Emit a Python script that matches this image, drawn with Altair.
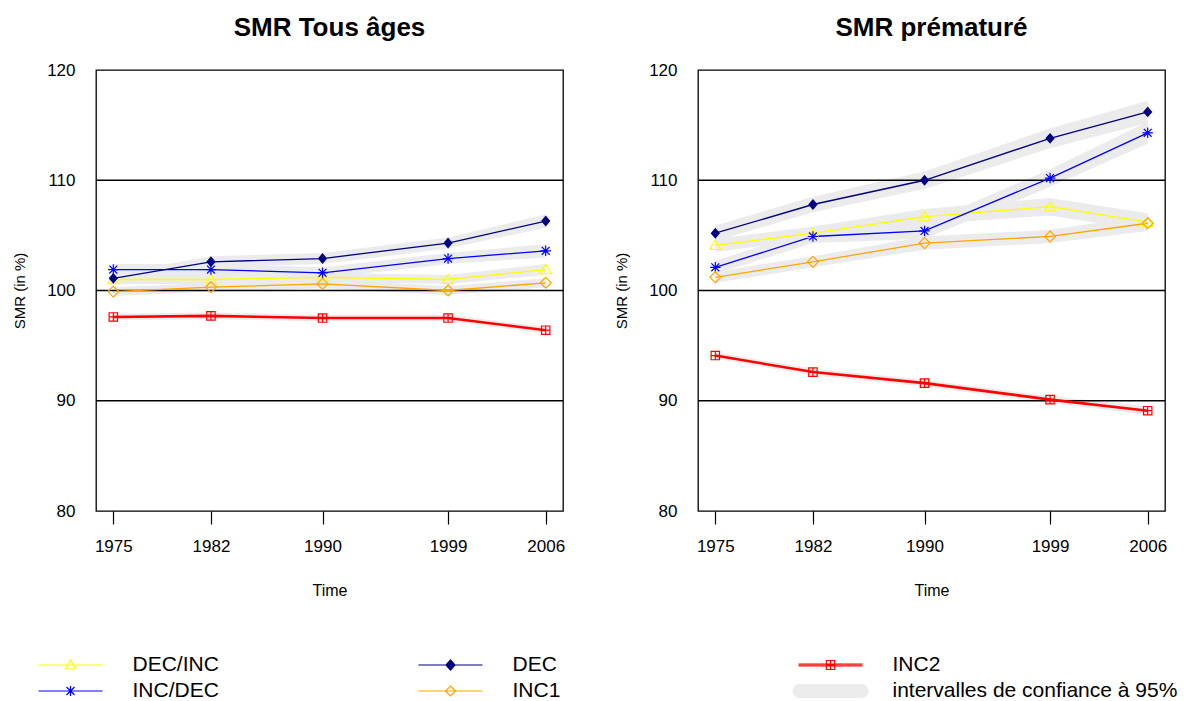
import altair as alt
import pandas as pd

FONT = "Liberation Sans"

years = [1975, 1982, 1990, 1999, 2006]
ref_levels = [90, 100, 110]
y_ticks = [80, 90, 100, 110, 120]
series_names = ["DEC/INC", "INC/DEC", "DEC", "INC1", "INC2"]
ci_label = "intervalles de confiance à 95%"

# SMR Tous âges
all_dec_inc = [101.0, 101.0, 101.2, 101.0, 101.9]
all_inc_dec = [101.9, 101.9, 101.6, 102.9, 103.6]
all_dec = [101.1, 102.6, 102.9, 104.3, 106.3]
all_inc1 = [99.9, 100.3, 100.6, 100.0, 100.7]
all_inc2 = [97.6, 97.7, 97.5, 97.5, 96.4]
# half-width of 95% CI, Tous âges
all_ci_dec_inc = [0.4, 0.4, 0.4, 0.4, 0.5]
all_ci_inc_dec = [0.5, 0.5, 0.5, 0.5, 0.6]
all_ci_dec = [0.4, 0.5, 0.5, 0.5, 0.6]
all_ci_inc1 = [0.4, 0.4, 0.4, 0.4, 0.4]
all_ci_inc2 = [0.3, 0.3, 0.3, 0.3, 0.3]

# SMR prématuré
pre_dec_inc = [104.1, 105.2, 106.7, 107.6, 106.2]
pre_inc_dec = [102.1, 104.9, 105.4, 110.2, 114.3]
pre_dec = [105.2, 107.8, 110.0, 113.8, 116.2]
pre_inc1 = [101.2, 102.6, 104.3, 104.9, 106.1]
pre_inc2 = [94.1, 92.6, 91.6, 90.1, 89.1]
# half-width of 95% CI, prématuré
pre_ci_dec_inc = [0.6, 0.6, 0.7, 0.8, 0.8]
pre_ci_inc_dec = [0.6, 0.6, 0.7, 0.8, 1.0]
pre_ci_dec = [0.7, 0.7, 0.8, 0.9, 1.0]
pre_ci_inc1 = [0.5, 0.5, 0.6, 0.6, 0.7]
pre_ci_inc2 = [0.3, 0.3, 0.3, 0.3, 0.4]

panels = {
    "all": ({"DEC/INC": all_dec_inc, "INC/DEC": all_inc_dec, "DEC": all_dec,
             "INC1": all_inc1, "INC2": all_inc2},
            {"DEC/INC": all_ci_dec_inc, "INC/DEC": all_ci_inc_dec, "DEC": all_ci_dec,
             "INC1": all_ci_inc1, "INC2": all_ci_inc2}),
    "pre": ({"DEC/INC": pre_dec_inc, "INC/DEC": pre_inc_dec, "DEC": pre_dec,
             "INC1": pre_inc1, "INC2": pre_inc2},
            {"DEC/INC": pre_ci_dec_inc, "INC/DEC": pre_ci_inc_dec, "DEC": pre_ci_dec,
             "INC1": pre_ci_inc1, "INC2": pre_ci_inc2}),
}

rows = []
for key, (vals, cis) in panels.items():
    for s in series_names:
        for yr, v, h in zip(years, vals[s], cis[s]):
            rows.append({"panel": key, "series": s, "year": yr, "smr": v,
                         "lo": round(v - h, 3), "hi": round(v + h, 3)})
df = pd.DataFrame(rows)

# styles
colors = {"DEC/INC": "#FFFF00", "INC/DEC": "#0000FF", "DEC": "#000080",
          "INC1": "#FFA500", "INC2": "#FF0000"}
widths = {"DEC/INC": 1.3, "INC/DEC": 1.3, "DEC": 1.3, "INC1": 1.3, "INC2": 2.6}
marker_paths = {
    "DEC/INC": "M0,-1L1.05,0.8L-1.05,0.8Z",
    "INC/DEC": "M-1,0L1,0M0,-1L0,1M-0.75,-0.75L0.75,0.75M-0.75,0.75L0.75,-0.75",
    "DEC": "M0,-1L0.85,0L0,1L-0.85,0Z",
    "INC1": "M0,-1L1,0L0,1L-1,0Z",
    "INC2": "M-0.8,-0.8L0.8,-0.8L0.8,0.8L-0.8,0.8ZM-0.8,0L0.8,0M0,-0.8L0,0.8",
}
marker_sizes = {"DEC/INC": 110, "INC/DEC": 110, "DEC": 120, "INC1": 120, "INC2": 110}
marker_filled = {"DEC/INC": False, "INC/DEC": False, "DEC": True, "INC1": False, "INC2": False}
band_color = "#EBEBEB"

# legend entries (filled column by column)
legend_order = ["DEC/INC", "INC/DEC", "DEC", "INC1", "INC2", ci_label]
LINE = "M-3.2,0L3.2,0"
legend_paths = [
    LINE + "M0,-0.5L0.52,0.4L-0.52,0.4Z",
    LINE + "M0,-0.5L0,0.5M-0.4,-0.4L0.4,0.4M-0.4,0.4L0.4,-0.4",
    LINE + "M0,-0.5L0.45,0L0,0.5L-0.45,0Z",
    LINE + "M0,-0.5L0.5,0L0,0.5L-0.5,0Z",
    "M-3.2,-0.08L3.2,-0.08M-3.2,0.08L3.2,0.08M-0.42,-0.45L0.42,-0.45L0.42,0.45L-0.42,0.45ZM-0.42,0L0.42,0M0,-0.45L0,0.45",
    "M-3.1,-0.65L3.1,-0.65A0.65,0.65 0 0 1 3.1,0.65L-3.1,0.65A0.65,0.65 0 0 1 -3.1,-0.65Z",
]
legend_strokes = ["#FFFF00", "#0000FF", "#000080", "#FFA500", "#FF0000", band_color]
legend_fills = ["transparent", "transparent", "#000080", "transparent", "transparent", band_color]

legend = alt.Legend(
    title=None, orient="none", legendX=-58, legendY=584, columns=3, gridAlign="all",
    columnPadding=-12, rowPadding=5, symbolSize=400, symbolStrokeWidth=1.2,
    symbolOffset=21.5, labelOffset=51, labelFont=FONT, labelFontSize=21,
    labelColor="black", labelLimit=400,
)

x_scale = alt.Scale(domain=[1973.76, 2007.24], nice=False, zero=False)
y_scale = alt.Scale(domain=[80, 120], nice=False, zero=False)
x_axis = alt.Axis(values=years, format="d", title="Time", domain=False, grid=False,
                  tickSize=13, tickColor="black", tickWidth=1.2, labelPadding=14,
                  labelFontSize=17, labelFont=FONT, labelColor="black",
                  titleFont=FONT, titleFontSize=16, titleFontWeight="normal",
                  titleColor="black", titlePadding=28)
y_axis = alt.Axis(values=y_ticks, title="SMR (in %)", domain=False, grid=False,
                  ticks=False, tickSize=0, labelPadding=21, labelFontSize=17,
                  labelFont=FONT, labelColor="black", titleFont=FONT,
                  titleFontSize=15, titleFontWeight="normal", titleColor="black",
                  titlePadding=19)


def make_panel(key, title, with_legend):
    base = alt.Chart(df).transform_filter(alt.datum.panel == key)
    band = base.mark_area(color=band_color, opacity=1).encode(
        x=alt.X("year:Q", scale=x_scale, axis=x_axis),
        y=alt.Y("lo:Q", scale=y_scale, axis=y_axis),
        y2="hi:Q",
        detail="series:N",
    )
    refs = alt.Chart(pd.DataFrame({"ref": ref_levels})).mark_rule(
        color="black", strokeWidth=1.3).encode(y=alt.Y("ref:Q", scale=y_scale))
    layers = [band, refs]
    for s in series_names:
        sub = base.transform_filter(alt.datum.series == s)
        layers.append(sub.mark_line(color=colors[s], strokeWidth=widths[s]).encode(
            x=alt.X("year:Q", scale=x_scale), y=alt.Y("smr:Q", scale=y_scale)))
    for s in series_names:
        sub = base.transform_filter(alt.datum.series == s)
        layers.append(sub.mark_point(
            shape=marker_paths[s], size=marker_sizes[s], filled=marker_filled[s],
            color=colors[s], strokeWidth=1.2, opacity=1).encode(
            x=alt.X("year:Q", scale=x_scale), y=alt.Y("smr:Q", scale=y_scale)))
    if with_legend:
        dummy = alt.Chart(df).transform_filter("false").mark_point(
            size=400, filled=True, opacity=1, strokeWidth=1.2).encode(
            shape=alt.Shape("series:N", scale=alt.Scale(domain=legend_order, range=legend_paths), legend=legend),
            stroke=alt.Stroke("series:N", scale=alt.Scale(domain=legend_order, range=legend_strokes), legend=legend),
            fill=alt.Fill("series:N", scale=alt.Scale(domain=legend_order, range=legend_fills), legend=legend),
        )
        layers.append(dummy)
    return alt.layer(*layers).properties(
        width=467, height=441,
        title=alt.TitleParams(title, font=FONT, fontSize=26, fontWeight="bold",
                              color="black", offset=20, anchor="middle"),
    )


left = make_panel("all", "SMR Tous âges", True)
right = make_panel("pre", "SMR prématuré", False)

chart = alt.hconcat(left, right, spacing=47).properties(
    padding={"left": 3, "top": 6, "right": 0, "bottom": 0},
    background="white",
).configure_view(stroke="black", strokeWidth=1.3)

chart.save("out.html", embed_options={"renderer": "svg", "actions": False})
